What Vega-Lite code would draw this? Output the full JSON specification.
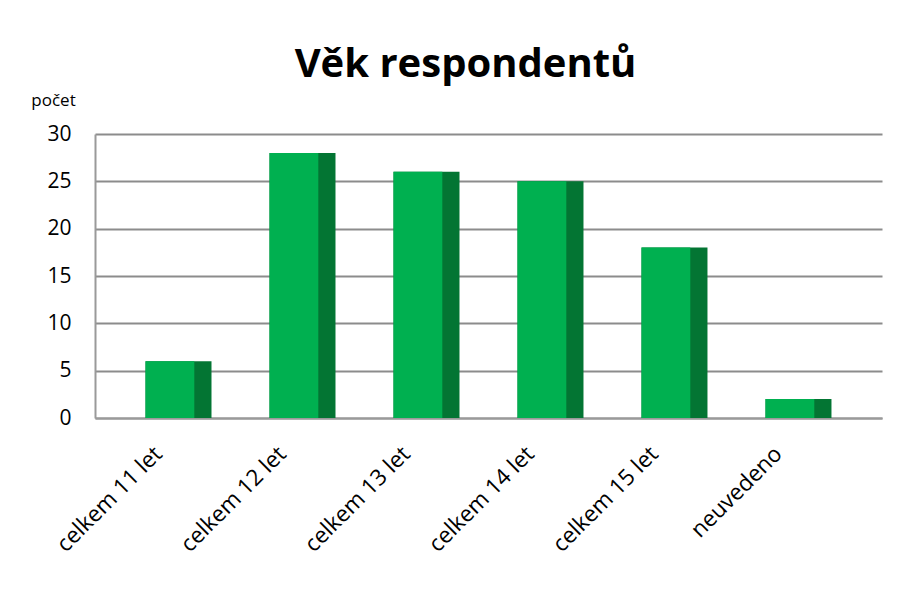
{
  "$schema": "https://vega.github.io/schema/vega-lite/v6.json",
  "width": 787,
  "height": 284,
  "autosize": "none",
  "padding": {"left": 95, "top": 134, "right": 25, "bottom": 183},
  "background": "white",
  "title": {
    "text": "Věk respondentů",
    "font": "Open Sans",
    "fontSize": 40,
    "fontWeight": "bold",
    "color": "black",
    "anchor": "middle",
    "dx": -23,
    "offset": 6
  },
  "data": {
    "values": [
      {"kat": "celkem 11 let", "pocet": 6},
      {"kat": "celkem 12 let", "pocet": 28},
      {"kat": "celkem 13 let", "pocet": 26},
      {"kat": "celkem 14 let", "pocet": 25},
      {"kat": "celkem 15 let", "pocet": 18},
      {"kat": "neuvedeno", "pocet": 2}
    ]
  },
  "encoding": {
    "x": {
      "field": "kat",
      "type": "nominal",
      "sort": null,
      "scale": {"paddingInner": 0.468, "paddingOuter": 0.4075},
      "axis": {
        "title": null,
        "labelAngle": -45,
        "labelAlign": "right",
        "labelBaseline": "middle",
        "labelFont": "Open Sans",
        "labelFontSize": 22.5,
        "labelColor": "black",
        "labelPadding": 32,
        "labelOffset": -20,
        "ticks": false,
        "domain": true,
        "domainColor": "#9a9a9a",
        "domainWidth": 2,
        "grid": false
      }
    },
    "y": {
      "field": "pocet",
      "type": "quantitative",
      "scale": {"domain": [0, 30]},
      "axis": {
        "values": [0, 5, 10, 15, 20, 25, 30],
        "title": "počet",
        "titleAngle": 0,
        "titleFont": "Open Sans",
        "titleFontWeight": "normal",
        "titleFontSize": 17,
        "titleColor": "black",
        "titleAlign": "center",
        "titleBaseline": "middle",
        "titleX": -42,
        "titleY": -34,
        "labelFont": "Open Sans",
        "labelFontSize": 21,
        "labelColor": "black",
        "labelPadding": 24,
        "ticks": false,
        "domainColor": "#9a9a9a",
        "domainWidth": 2,
        "grid": true,
        "gridColor": "#8c8c8c",
        "gridWidth": 2
      }
    }
  },
  "layer": [
    {"mark": {"type": "bar", "color": "#037533", "cornerRadius": 0}},
    {"mark": {"type": "bar", "color": "#00b050", "width": {"band": 0.74}, "xOffset": -8.6}}
  ],
  "config": {
    "view": {"stroke": null}
  }
}
